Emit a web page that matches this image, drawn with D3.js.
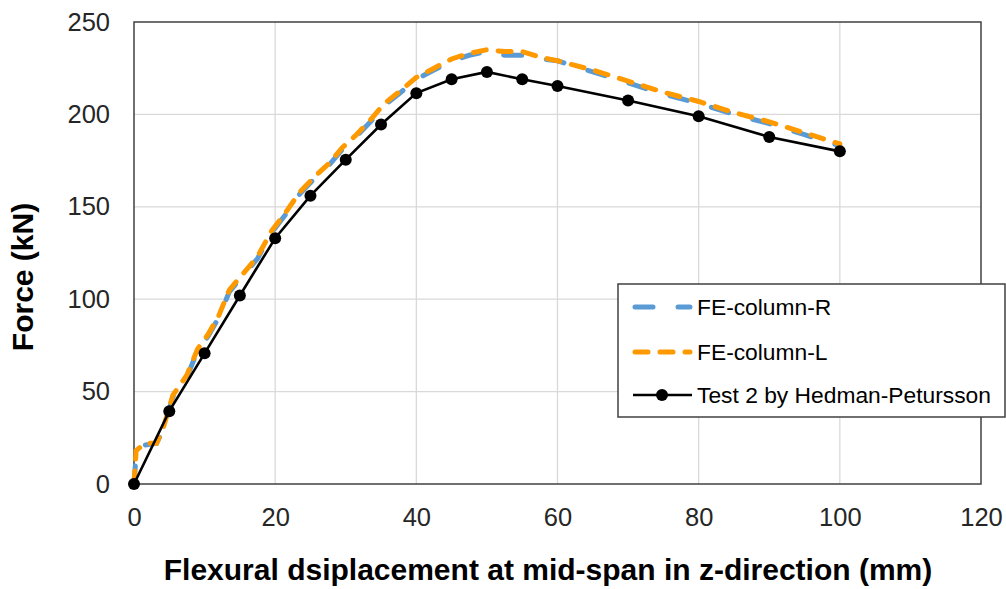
<!DOCTYPE html>
<html>
<head>
<meta charset="utf-8">
<script src="https://cdn.jsdelivr.net/npm/d3@7"></script>
<style>
  body { margin: 0; background: #fff; }
  text { font-family: Arial, "Liberation Sans", sans-serif; fill: #000; }
  .tick-lab { font-size: 25.5px; fill: #262626; }
  .title { font-size: 30px; font-weight: bold; }
  .leg { font-size: 22.8px; }
</style>
</head>
<body>
<div id="chart"></div>
<script>
// data
const testX = [0, 5, 10, 15, 20, 25, 30, 35, 40, 45, 50, 55, 60, 70, 80, 90, 100]
const testY = [0, 39.4, 70.7, 102, 133, 156, 175.5, 194.5, 211.5, 219, 223, 219, 215.4, 207.5, 199, 187.8, 180]

const feX  = [0, 0.3, 1.5, 3.2, 4.2, 5.5, 7.5, 9, 10.5, 12, 13.5, 15.5, 17.5, 19.5, 21.5, 23.5, 25.5, 27.5, 29.5, 31.5,
              33.5, 35.5, 37.5, 40, 42.5, 45, 47.5, 50, 52.5, 55, 57.5, 60, 65, 70, 75, 80, 85, 90, 95, 100]
const feRY = [0, 16, 21, 22, 30, 47, 58, 72, 80, 90, 104, 113, 122, 136, 146, 157, 165, 172, 181, 188,
              196, 205, 211, 219, 224, 229, 232, 234, 232, 232, 230, 229, 223, 217, 211, 206, 200, 195, 189, 183]
const feLY = [0, 18, 22, 22, 31, 48, 59, 73, 81, 91, 105, 114, 123, 137, 147, 158, 166, 173, 182, 189,
              197, 206, 212, 220, 225, 230, 233, 235, 234, 234, 231, 229, 224, 218, 212, 207, 201, 196, 190, 184]

const xTicks = [0, 20, 40, 60, 80, 100, 120]
const yTicks = [0, 50, 100, 150, 200, 250]
const seriesNames = ['FE-column-R', 'FE-column-L', 'Test 2 by Hedman-Petursson']

const w = 1006, h = 589
const pad_left = 134, pad_right = 981, pad_top = 22, pad_bottom = 484

const svg = d3.select('#chart').append('svg')
  .attr('width', w).attr('height', h)

const xScale = d3.scaleLinear().domain([0, 120]).range([pad_left, pad_right])
const yScale = d3.scaleLinear().domain([0, 250]).range([pad_bottom, pad_top])

// grid
svg.append('g').selectAll('line').data(xTicks.slice(1, -1)).enter().append('line')
  .attr('x1', d => xScale(d)).attr('x2', d => xScale(d))
  .attr('y1', pad_top).attr('y2', pad_bottom)
  .attr('stroke', '#d9d9d9').attr('stroke-width', 1.3)
svg.append('g').selectAll('line').data(yTicks.slice(1, -1)).enter().append('line')
  .attr('x1', pad_left).attr('x2', pad_right)
  .attr('y1', d => yScale(d)).attr('y2', d => yScale(d))
  .attr('stroke', '#d9d9d9').attr('stroke-width', 1.3)

// frame
svg.append('rect')
  .attr('x', pad_left).attr('y', pad_top).attr('width', pad_right - pad_left).attr('height', pad_bottom - pad_top)
  .attr('fill', 'none').attr('stroke', '#404040').attr('stroke-width', 1.5)

// axes labels
const xAxis = d3.axisBottom(xScale).tickValues(xTicks).tickSize(0).tickPadding(24)
const yAxis = d3.axisLeft(yScale).tickValues(yTicks).tickSize(0).tickPadding(24)
const gx = svg.append('g').attr('transform', 'translate(0,' + pad_bottom + ')').call(xAxis)
const gy = svg.append('g').attr('transform', 'translate(' + pad_left + ',0)').call(yAxis)
gx.select('.domain').remove()
gy.select('.domain').remove()
gx.attr('font-size', null).attr('font-family', null)
gy.attr('font-size', null).attr('font-family', null)
gx.selectAll('text').attr('class', 'tick-lab')
gy.selectAll('text').attr('class', 'tick-lab')

const line = d3.line().x(d => xScale(d[0])).y(d => yScale(d[1]))

// FE curves
svg.append('path')
  .datum(feX.map((x, i) => [x, feRY[i]]))
  .attr('d', line).attr('fill', 'none')
  .attr('stroke', '#5b9bd5').attr('stroke-width', 5)
  .attr('stroke-linecap', 'round').attr('stroke-dasharray', '18,25')
svg.append('path')
  .datum(feX.map((x, i) => [x, feLY[i]]))
  .attr('d', line).attr('fill', 'none')
  .attr('stroke', '#ff9900').attr('stroke-width', 5)
  .attr('stroke-linecap', 'round').attr('stroke-dasharray', '13,12')

// test curve
const testData = testX.map((x, i) => [x, testY[i]])
svg.append('path')
  .datum(testData)
  .attr('d', line).attr('fill', 'none')
  .attr('stroke', '#000').attr('stroke-width', 2.6)
svg.append('g').selectAll('circle').data(testData).enter().append('circle')
  .attr('cx', d => xScale(d[0])).attr('cy', d => yScale(d[1]))
  .attr('r', 6).attr('fill', '#000')

// titles
svg.append('text')
  .text('Flexural dsiplacement at mid-span in z-direction (mm)')
  .attr('class', 'title').attr('x', 548).attr('y', 580)
  .attr('text-anchor', 'middle')
svg.append('text')
  .text('Force (kN)')
  .attr('class', 'title')
  .attr('transform', 'translate(33,277) rotate(-90)')
  .attr('text-anchor', 'middle')

// legend
const lg = svg.append('g')
lg.append('rect')
  .attr('x', 618).attr('y', 284).attr('width', 387).attr('height', 133)
  .attr('fill', '#fff').attr('stroke', '#404040').attr('stroke-width', 1.5)
const legY = [307, 352, 395]
lg.append('line').attr('x1', 635).attr('x2', 690).attr('y1', legY[0]).attr('y2', legY[0])
  .attr('stroke', '#5b9bd5').attr('stroke-width', 5).attr('stroke-linecap', 'round').attr('stroke-dasharray', '18,25')
lg.append('line').attr('x1', 635).attr('x2', 690).attr('y1', legY[1]).attr('y2', legY[1])
  .attr('stroke', '#ff9900').attr('stroke-width', 5).attr('stroke-linecap', 'round').attr('stroke-dasharray', '13,12')
lg.append('line').attr('x1', 633).attr('x2', 692).attr('y1', legY[2]).attr('y2', legY[2])
  .attr('stroke', '#000').attr('stroke-width', 2.6)
lg.append('circle').attr('cx', 662).attr('cy', legY[2]).attr('r', 6).attr('fill', '#000')
lg.selectAll('text.leg').data(seriesNames).enter().append('text')
  .attr('class', 'leg')
  .attr('x', 697).attr('y', (d, i) => legY[i])
  .attr('dy', '0.36em')
  .text(d => d)
</script>
</body>
</html>
